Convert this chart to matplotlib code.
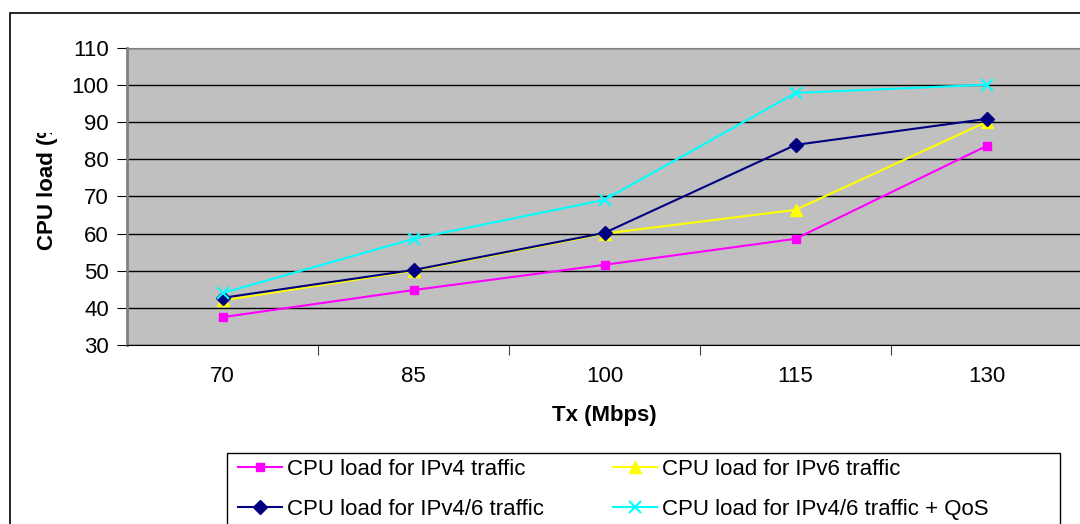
import matplotlib
matplotlib.use("Agg")
import matplotlib.pyplot as plt
from matplotlib.patches import Rectangle
from matplotlib.transforms import Bbox

plt.rcParams['font.family'] = ['Liberation Sans', 'DejaVu Sans']

tx = ['70', '85', '100', '115', '130']
ipv4 = [37.5, 44.8, 51.6, 58.6, 83.6]
ipv6 = [42.0, 50.0, 60.0, 66.4, 90.1]
ipv46 = [42.7, 50.2, 60.2, 83.9, 90.9]
ipv46_qos = [44.0, 58.6, 69.1, 97.9, 100.1]
yticks = [30, 40, 50, 60, 70, 80, 90, 100, 110]

W, H = 1080, 524
FS = 16
fig = plt.figure(figsize=(W / 100, H / 100), dpi=100)

# outer chart border (cut off at right/bottom like the source)
fig.patches.append(Rectangle((10 / W, -0.1), 2, (H - 13) / H + 0.1, transform=fig.transFigure,
                             fill=False, edgecolor='black', lw=1.2))

ax = fig.add_axes([127 / W, (H - 345) / H, (1082 - 127) / W, (345 - 48) / H])
ax.set_facecolor('#c0c0c0')

x = range(1, len(tx) + 1)
l1, = ax.plot(x, ipv4, color='#ff00ff', marker='s', ms=6, lw=1.5, label='CPU load for IPv4 traffic')
l2, = ax.plot(x, ipv6, color='#ffff00', marker='^', ms=9, lw=1.5, label='CPU load for IPv6 traffic')
l3, = ax.plot(x, ipv46, color='#000080', marker='D', ms=7, lw=1.5, label='CPU load for IPv4/6 traffic')
l4, = ax.plot(x, ipv46_qos, color='#00ffff', marker='x', ms=9, mew=1.5, lw=1.5,
              label='CPU load for IPv4/6 traffic + QoS')

ax.set_xlim(0.5, len(tx) + 0.5)
ax.set_ylim(30, 110)
ax.set_yticks(yticks)
ax.grid(axis='y', color='black', lw=1)

ax.set_xticks([i + 0.5 for i in range(1, len(tx))])
ax.set_xticklabels([])
ax.set_xticks(list(x), minor=True)
ax.set_xticklabels(tx, minor=True)
ax.tick_params(axis='x', which='major', direction='out', length=7, color='#404040')
ax.tick_params(axis='x', which='minor', length=0, pad=15, labelsize=FS)
ax.tick_params(axis='y', direction='out', length=7, color='black', pad=6, labelsize=FS)

for s in ['top', 'right']:
    ax.spines[s].set_color('#808080')
ax.spines['left'].set_color('#808080')
ax.spines['left'].set_linewidth(2)
ax.spines['bottom'].set_color('black')

ax.set_xlabel('Tx (Mbps)', fontsize=FS, fontweight='bold', labelpad=13)

# y label is cut off in the source chart
ylab = fig.text(47 / W, (H - 250) / H, 'CPU load (%)', rotation=90, ha='center', va='bottom',
                fontsize=FS, fontweight='bold')
ylab.set_clip_box(Bbox([[0, 0], [W, H - 133]]))
ylab.set_clip_on(True)

# legend box
fig.patches.append(Rectangle((227 / W, -0.1), (1060 - 227) / W, (H - 453) / H + 0.1,
                             transform=fig.transFigure, fill=False, edgecolor='black', lw=1))
fig.legend(handles=[l1, l3, l2, l4], loc='upper left', bbox_to_anchor=(229 / W, (H - 450) / H),
           ncol=2, frameon=False, fontsize=FS, handlelength=2.0, handletextpad=0.2,
           columnspacing=3.1, labelspacing=0.85, borderaxespad=0)

fig.savefig('out.png', dpi=100)
